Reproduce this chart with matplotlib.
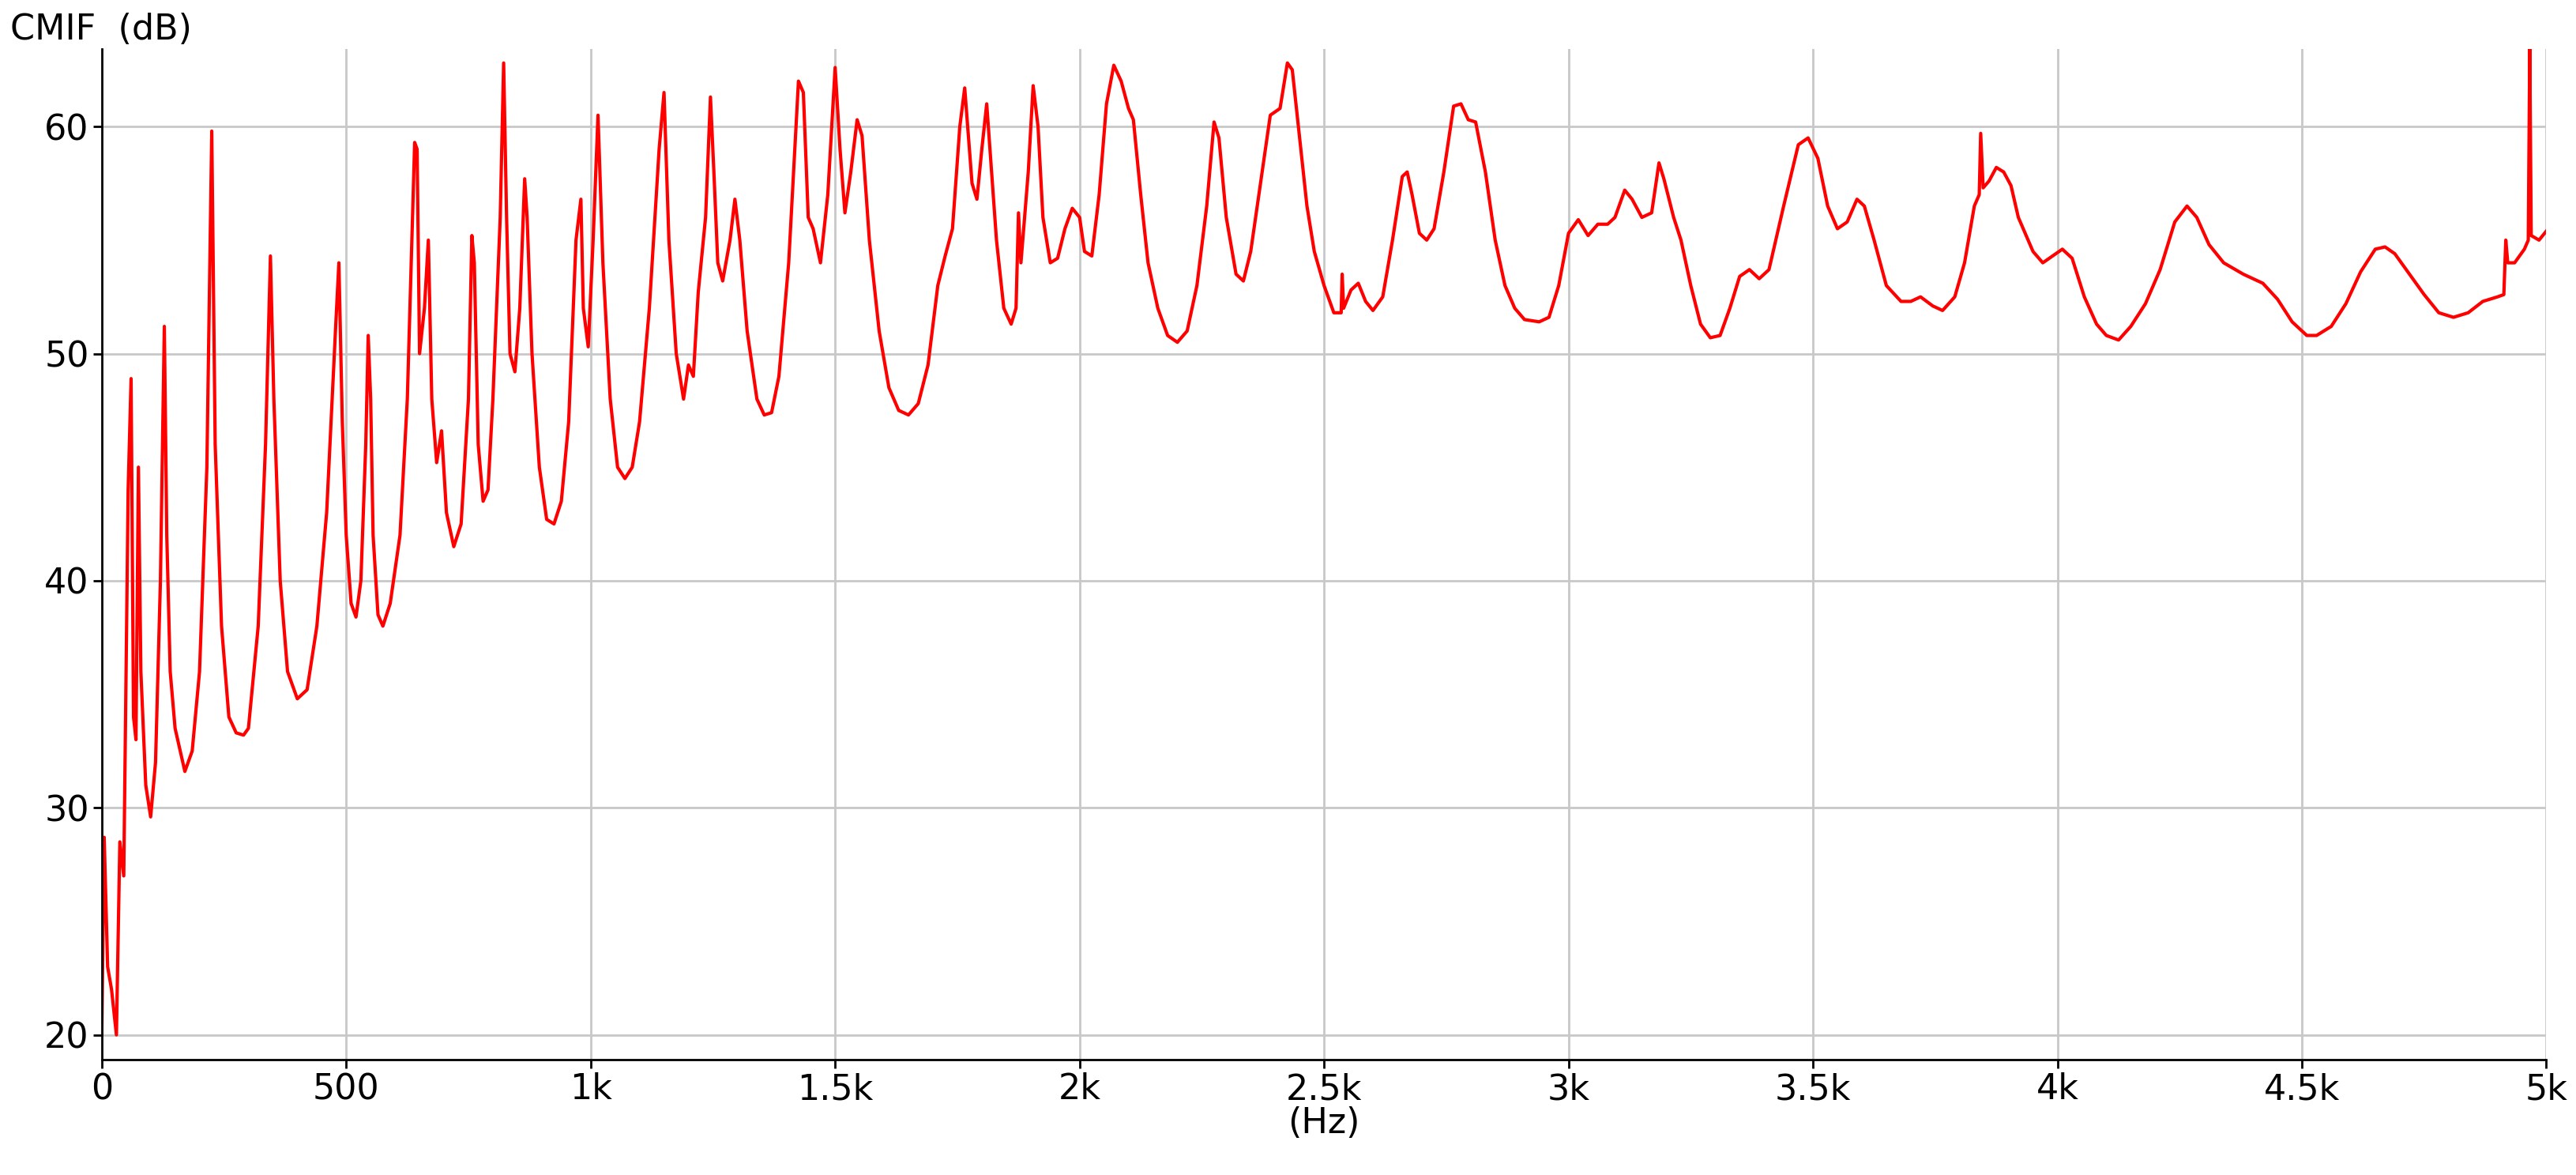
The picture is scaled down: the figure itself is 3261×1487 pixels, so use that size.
import matplotlib
matplotlib.use('Agg')
import matplotlib.pyplot as plt
from matplotlib.ticker import FuncFormatter

# CMIF curve (Hz, dB)
freq = [0, 5, 12, 20, 30, 37, 45, 54, 60, 65, 70, 75, 80, 90, 100, 110, 120, 128, 133, 140, 150, 170, 185, 200, 215, 225, 232, 245, 260, 275, 290, 300, 320, 335, 345, 352, 365, 380, 400, 420, 440, 460, 478, 485, 492, 500, 510, 520, 530, 540, 545, 550, 555, 565, 575, 590, 610, 625, 640, 645, 650, 660, 668, 675, 685, 695, 705, 720, 735, 750, 757, 762, 770, 780, 790, 800, 815, 822, 828, 835, 845, 855, 865, 870, 880, 895, 910, 925, 940, 955, 970, 980, 985, 995, 1005, 1015, 1025, 1040, 1055, 1070, 1085, 1100, 1120, 1140, 1150, 1160, 1175, 1190, 1200, 1210, 1220, 1235, 1245, 1252, 1260, 1270, 1285, 1295, 1305, 1320, 1340, 1355, 1370, 1385, 1405, 1425, 1435, 1445, 1455, 1470, 1485, 1500, 1510, 1520, 1532, 1545, 1555, 1570, 1590, 1610, 1630, 1650, 1670, 1690, 1710, 1725, 1740, 1755, 1765, 1780, 1790, 1800, 1810, 1820, 1830, 1845, 1860, 1870, 1875, 1880, 1895, 1905, 1915, 1925, 1940, 1955, 1970, 1985, 2000, 2010, 2025, 2040, 2055, 2070, 2085, 2100, 2110, 2125, 2140, 2160, 2180, 2200, 2220, 2240, 2260, 2275, 2285, 2300, 2320, 2335, 2350, 2370, 2390, 2410, 2425, 2435, 2450, 2465, 2480, 2500, 2520, 2535, 2537, 2540, 2555, 2570, 2585, 2600, 2620, 2640, 2660, 2670, 2680, 2695, 2710, 2725, 2745, 2765, 2780, 2795, 2810, 2830, 2850, 2870, 2890, 2910, 2940, 2960, 2980, 3000, 3020, 3040, 3060, 3080, 3095, 3115, 3130, 3150, 3170, 3185, 3195, 3215, 3230, 3250, 3270, 3290, 3310, 3330, 3350, 3370, 3390, 3410, 3440, 3470, 3490, 3510, 3530, 3550, 3570, 3590, 3605, 3625, 3650, 3680, 3700, 3720, 3745, 3765, 3790, 3810, 3830, 3840, 3843, 3848, 3860, 3875, 3890, 3905, 3920, 3950, 3970, 3990, 4010, 4030, 4055, 4080, 4100, 4125, 4150, 4180, 4210, 4240, 4265, 4285, 4310, 4340, 4380, 4420, 4450, 4480, 4510, 4530, 4560, 4590, 4620, 4650, 4670, 4690, 4720, 4750, 4780, 4810, 4840, 4870, 4900, 4913, 4917, 4921, 4935, 4955, 4963, 4966, 4969, 4985, 5000]
cmif = [20, 28.7, 23, 22, 20, 28.5, 27, 44, 48.9, 34, 33, 45, 36, 31, 29.6, 32, 40, 51.2, 42, 36, 33.5, 31.6, 32.5, 36, 45, 59.8, 46, 38, 34, 33.3, 33.2, 33.5, 38, 46, 54.3, 48, 40, 36, 34.8, 35.2, 38, 43, 51, 54, 47, 42, 39, 38.4, 40, 46, 50.8, 48, 42, 38.5, 38, 39, 42, 48, 59.3, 59, 50, 52, 55, 48, 45.2, 46.6, 43, 41.5, 42.5, 48, 55.2, 54, 46, 43.5, 44, 48, 56, 62.8, 56, 50, 49.2, 52, 57.7, 56, 50, 45, 42.7, 42.5, 43.5, 47, 55, 56.8, 52, 50.3, 55, 60.5, 54, 48, 45, 44.5, 45, 47, 52, 59, 61.5, 55, 50, 48, 49.5, 49, 52.7, 56, 61.3, 58, 54, 53.2, 55, 56.8, 55, 51, 48, 47.3, 47.4, 49, 54, 62, 61.5, 56, 55.5, 54, 57, 62.6, 59, 56.2, 58, 60.3, 59.6, 55, 51, 48.5, 47.5, 47.3, 47.8, 49.5, 53, 54.3, 55.5, 60, 61.7, 57.5, 56.8, 59, 61, 58, 55, 52, 51.3, 52, 56.2, 54, 58, 61.8, 60, 56, 54, 54.2, 55.5, 56.4, 56, 54.5, 54.3, 57, 61, 62.7, 62, 60.8, 60.3, 57, 54, 52, 50.8, 50.5, 51, 53, 56.5, 60.2, 59.5, 56, 53.5, 53.2, 54.5, 57.5, 60.5, 60.8, 62.8, 62.5, 59.5, 56.5, 54.5, 53, 51.8, 51.8, 53.5, 52, 52.8, 53.1, 52.3, 51.9, 52.5, 55, 57.8, 58, 57, 55.3, 55, 55.5, 58, 60.9, 61, 60.3, 60.2, 58, 55, 53, 52, 51.5, 51.4, 51.6, 53, 55.3, 55.9, 55.2, 55.7, 55.7, 56, 57.2, 56.8, 56, 56.2, 58.4, 57.7, 56, 55, 53, 51.3, 50.7, 50.8, 52, 53.4, 53.7, 53.3, 53.7, 56.5, 59.2, 59.5, 58.6, 56.5, 55.5, 55.8, 56.8, 56.5, 55, 53, 52.3, 52.3, 52.5, 52.1, 51.9, 52.5, 54, 56.5, 57, 59.7, 57.3, 57.6, 58.2, 58, 57.4, 56, 54.5, 54, 54.3, 54.6, 54.2, 52.5, 51.3, 50.8, 50.6, 51.2, 52.2, 53.7, 55.8, 56.5, 56, 54.8, 54, 53.5, 53.1, 52.4, 51.4, 50.8, 50.8, 51.2, 52.2, 53.6, 54.6, 54.7, 54.4, 53.5, 52.6, 51.8, 51.6, 51.8, 52.3, 52.5, 52.6, 55, 54, 54, 54.6, 55, 63.5, 55.2, 55, 55.4]

x_ticks = [0, 500, 1000, 1500, 2000, 2500, 3000, 3500, 4000, 4500, 5000]
y_ticks = [20, 30, 40, 50, 60]


def khz(v, pos):
    if v == 0:
        return '0'
    if v < 1000:
        return f'{v:.0f}'
    return f'{v / 1000:g}k'


fig = plt.figure(figsize=(32.61, 14.87), dpi=100)
ax = fig.add_axes([0.0395, 0.098, 0.949, 0.86])
ax.plot(freq, cmif, color='red', linewidth=3, solid_joinstyle='round')
ax.set_xlim(0, 5000)
ax.set_ylim(18.9, 63.4)
ax.set_xticks(x_ticks)
ax.set_yticks(y_ticks)
ax.xaxis.set_major_formatter(FuncFormatter(khz))
ax.grid(True, color='#c8c8c8', linewidth=2)
ax.set_axisbelow(True)
for side in ['top', 'right']:
    ax.spines[side].set_visible(False)
for side in ['left', 'bottom']:
    ax.spines[side].set_linewidth(2)
ax.tick_params(labelsize=32, length=8, width=2)
ax.set_xlabel('(Hz)', fontsize=32, labelpad=0)
fig.text(0.004, 0.975, 'CMIF  (dB)', fontsize=32, ha='left', va='center')

fig.savefig('out.png', dpi=100)
